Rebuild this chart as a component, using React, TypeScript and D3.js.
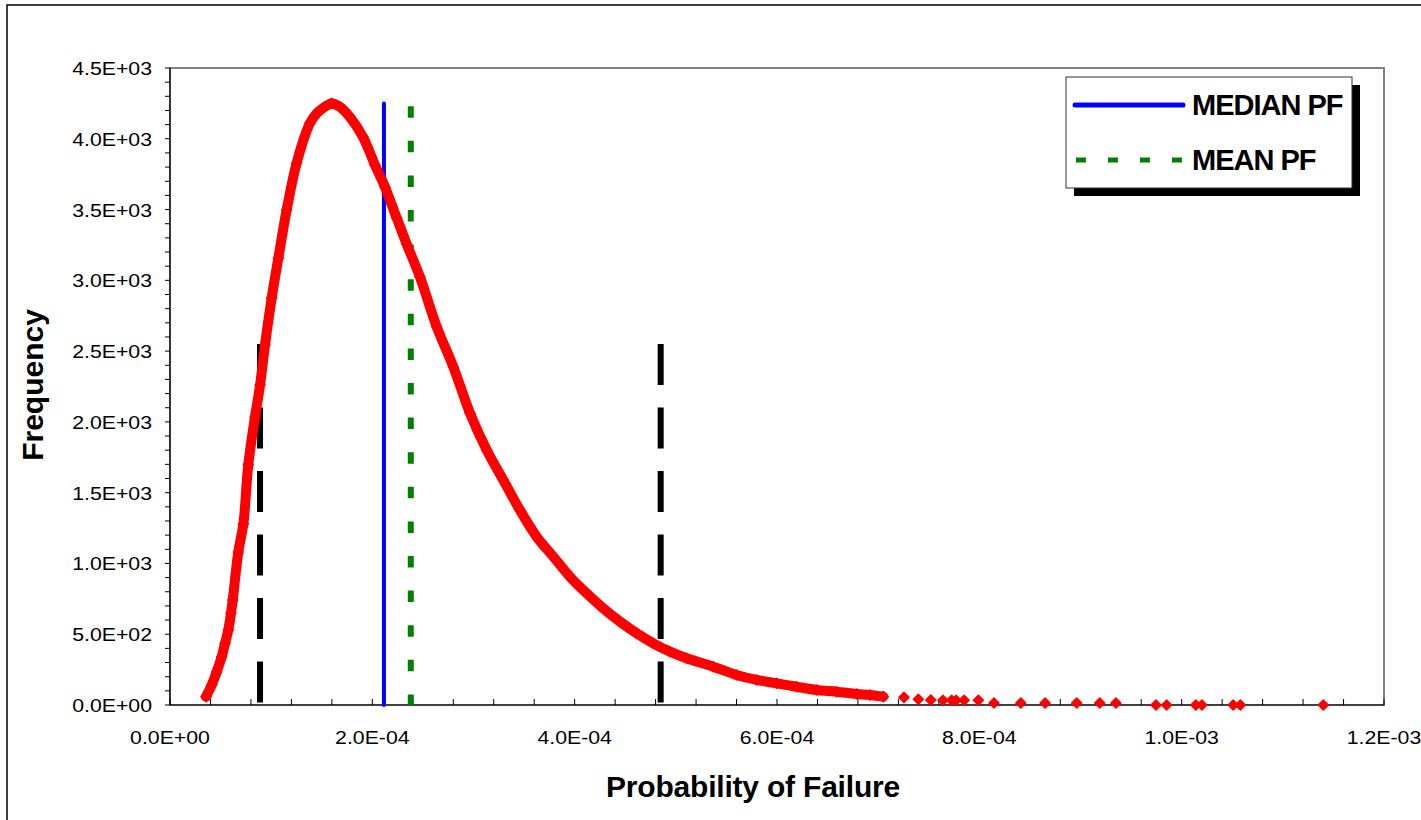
import React from "react";
import * as d3 from "d3";

// ---- data ----
const curvePF = [
  3.56e-5, 4.12e-5, 4.62e-5, 5.11e-5, 5.44e-5, 5.76e-5, 6.03e-5, 6.2e-5, 6.75e-5, 7.25e-5,
  7.74e-5, 8.4e-5, 8.9e-5, 9.39e-5, 1.005e-4, 1.071e-4, 1.153e-4, 1.252e-4, 1.384e-4, 1.45e-4,
  1.512e-4, 1.598e-4, 1.68e-4, 1.779e-4, 1.908e-4, 2.026e-4, 2.125e-4, 2.241e-4, 2.339e-4, 2.471e-4,
  2.636e-4, 2.8e-4, 2.965e-4, 3.13e-4, 3.295e-4, 3.459e-4, 3.624e-4, 3.789e-4, 3.954e-4, 4.119e-4,
  4.283e-4, 4.448e-4, 4.613e-4, 4.777e-4, 4.942e-4, 5.107e-4, 5.37e-4, 5.601e-4, 5.799e-4, 5.997e-4,
  6.194e-4, 6.392e-4, 6.59e-4, 6.788e-4, 6.919e-4, 7.05e-4,
];
const curveFreq = [
  59, 141, 235, 341, 436, 530, 650, 742, 1081, 1279,
  1699, 2034, 2260, 2543, 2875, 3158, 3497, 3829, 4111, 4180,
  4217, 4250, 4226, 4153, 4012, 3815, 3659, 3440, 3257, 3023,
  2672, 2390, 2062, 1801, 1589, 1377, 1189, 1048, 906, 789,
  683, 589, 507, 436, 377, 330, 271, 212, 177, 153,
  129, 106, 94, 78, 71, 59,
];
const tailPF = [
  7.255e-4, 7.397e-4, 7.52e-4, 7.64e-4, 7.726e-4, 7.77e-4, 7.85e-4, 7.99e-4, 8.145e-4, 8.41e-4,
  8.65e-4, 8.962e-4, 9.19e-4, 9.35e-4, 9.746e-4, 9.851e-4, 1.014e-3, 1.02e-3, 1.051e-3, 1.058e-3,
  1.14e-3,
];
const tailFreq = [
  54, 40, 35, 33, 33, 33, 33, 33, 14, 14,
  14, 14, 14, 14, 0, 0, 0, 0, 0, 0,
  0,
];

const medianPF = 2.115e-4;
const medianTop = 4250;
const meanPF = 2.38e-4;
const meanTop = 4230;
const boundPF = [8.9e-5, 4.85e-4];
const boundTop = 2550;

const xMajorTicks = [0, 2e-4, 4e-4, 6e-4, 8e-4, 1e-3, 1.2e-3];
const xTickLabels = ["0.0E+00", "2.0E-04", "4.0E-04", "6.0E-04", "8.0E-04", "1.0E-03", "1.2E-03"];
const yMajorTicks = [0, 500, 1000, 1500, 2000, 2500, 3000, 3500, 4000, 4500];
const yTickLabels = [
  "0.0E+00", "5.0E+02", "1.0E+03", "1.5E+03", "2.0E+03",
  "2.5E+03", "3.0E+03", "3.5E+03", "4.0E+03", "4.5E+03",
];
const legendLabels = ["MEDIAN PF", "MEAN PF"];

// ---- layout ----
const W = 1421;
const H = 820;
const L = 170, R = 1384, T = 68, B = 705;
const FONT = "'Liberation Sans', Arial, Helvetica, sans-serif";

const x = d3.scaleLinear().domain([0, 1.2e-3]).range([L, R]);
const y = d3.scaleLinear().domain([0, 4500]).range([B, T]);

const xMinor = d3.range(0, 1.2e-3 + 1e-9, 4e-5);
const yMinor = d3.range(0, 4501, 100);

function diamond(cx: number, cy: number, r: number) {
  return `M${cx},${cy - r}L${cx + r},${cy}L${cx},${cy + r}L${cx - r},${cy}Z`;
}

export default function App() {
  const curve = curvePF.map((p, i) => [p, curveFreq[i]] as [number, number]);
  const tail = tailPF.map((p, i) => [p, tailFreq[i]] as [number, number]);
  const line = d3
    .line<[number, number]>()
    .x((d) => x(d[0]))
    .y((d) => y(d[1]))
    .curve(d3.curveCatmullRom.alpha(0.5));

  const lx = 1066, ly = 77, lw = 286, lh = 111;

  return (
    <div style={{ position: "absolute", left: 0, top: 0 }}>
      <svg width={W} height={H} style={{ display: "block", background: "#fff" }}>
        <rect x={7} y={5} width={1500} height={1000} fill="#fff" stroke="#000" strokeWidth={1.5} />

        {/* plot area frame */}
        <rect x={L} y={T} width={R - L} height={B - T} fill="#fff" stroke="#808080" strokeWidth={2} />
        <line x1={L} x2={L} y1={T} y2={B} stroke="#000" strokeWidth={1.2} />
        <line x1={L} x2={R} y1={B} y2={B} stroke="#000" strokeWidth={1} />

        {/* y ticks */}
        {yMinor.map((v) => (
          <line key={"ym" + v} x1={L - 5} x2={L} y1={y(v)} y2={y(v)} stroke="#000" strokeWidth={1} />
        ))}
        {yMajorTicks.map((v, i) => (
          <text
            key={"yl" + v}
            transform={`translate(${L - 18},${y(v) + 7}) scale(1.12,1)`}
            textAnchor="end"
            fontFamily={FONT}
            fontSize={19}
            fill="#000"
          >
            {yTickLabels[i]}
          </text>
        ))}

        {/* x ticks */}
        {xMinor.map((v, i) => (
          <line key={"xm" + i} x1={x(v)} x2={x(v)} y1={B} y2={B - 6} stroke="#000" strokeWidth={1} />
        ))}
        {xMajorTicks.map((v, i) => (
          <text
            key={"xl" + i}
            transform={`translate(${x(v)},${B + 39}) scale(1.12,1)`}
            textAnchor="middle"
            fontFamily={FONT}
            fontSize={19}
            fill="#000"
          >
            {xTickLabels[i]}
          </text>
        ))}

        {/* axis titles */}
        <text
          transform={`translate(43,385) rotate(-90)`}
          textAnchor="middle"
          fontFamily={FONT}
          fontSize={30}
          fontWeight="bold"
        >
          Frequency
        </text>
        <text x={753} y={797} textAnchor="middle" fontFamily={FONT} fontSize={30} fontWeight="bold" letterSpacing={-0.2}>
          Probability of Failure
        </text>

        {/* bound lines (black dashed) */}
        {boundPF.map((p, i) => (
          <line
            key={"b" + i}
            x1={x(p)}
            x2={x(p)}
            y1={y(boundTop)}
            y2={B}
            stroke="#000"
            strokeWidth={6}
            strokeDasharray="41,22.5"
          />
        ))}
        {/* median */}
        <line x1={x(medianPF)} x2={x(medianPF)} y1={y(medianTop)} y2={B} stroke="#0000FF" strokeWidth={4} strokeLinecap="round" />
        {/* mean */}
        <line x1={x(meanPF)} x2={x(meanPF)} y1={y(meanTop)} y2={B} stroke="#008000" strokeWidth={6} strokeDasharray="11.5,23.1" />

        {/* red data */}
        <path d={line(curve) || ""} fill="none" stroke="#FF0000" strokeWidth={10} strokeLinejoin="round" strokeLinecap="round" />
        {curve.map((d, i) => (
          <path key={"c" + i} d={diamond(x(d[0]), y(d[1]), 5)} fill="#FF0000" stroke="#FF0000" strokeWidth={1.5} strokeLinejoin="round" />
        ))}
        {tail.map((d, i) => (
          <path key={"t" + i} d={diamond(x(d[0]), y(d[1]), 5)} fill="#FF0000" stroke="#FF0000" strokeWidth={1.5} strokeLinejoin="round" />
        ))}

        {/* legend */}
        <rect x={lx + 8} y={ly + 8} width={lw} height={lh} fill="#000" />
        <rect x={lx} y={ly} width={lw} height={lh} fill="#fff" stroke="#333" strokeWidth={1} />
        <line x1={lx + 9} x2={lx + 117} y1={105} y2={105} stroke="#0000FF" strokeWidth={5} strokeLinecap="round" />
        <line x1={lx + 10} x2={lx + 116} y1={160} y2={160} stroke="#008000" strokeWidth={5} strokeDasharray="10,22" />
        <text x={1192} y={115} fontFamily={FONT} fontSize={29} fontWeight="bold" letterSpacing={-1}>
          {legendLabels[0]}
        </text>
        <text x={1192} y={170} fontFamily={FONT} fontSize={29} fontWeight="bold" letterSpacing={-1}>
          {legendLabels[1]}
        </text>
      </svg>
    </div>
  );
}
